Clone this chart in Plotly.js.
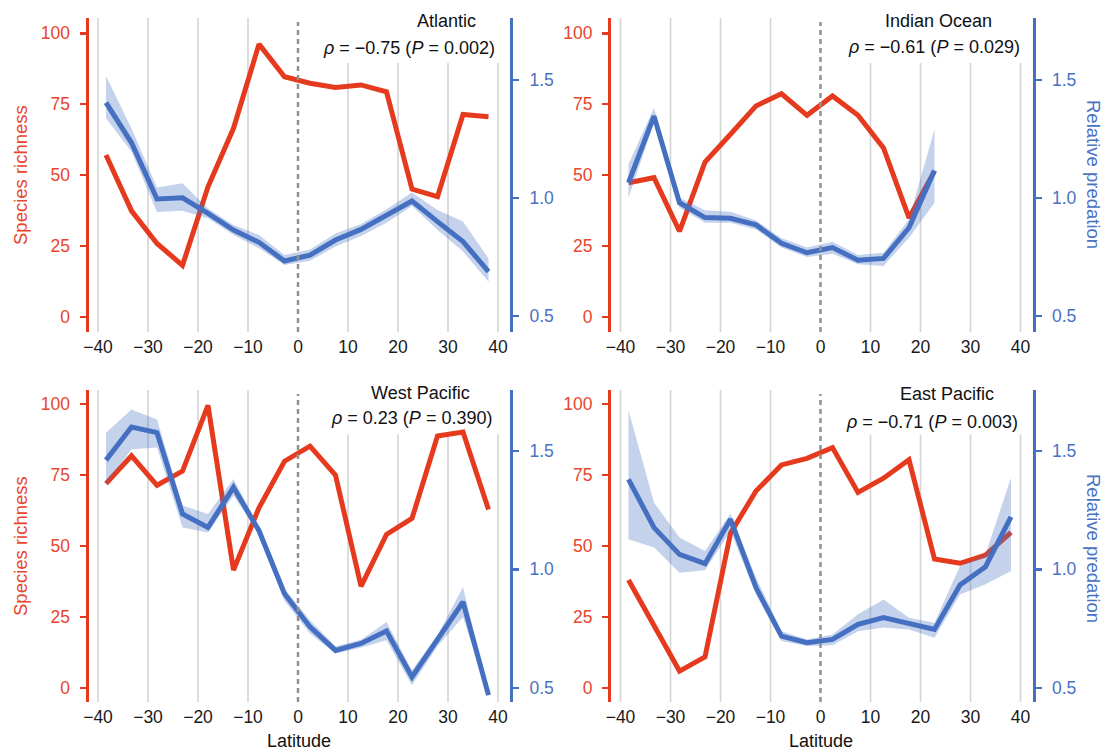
<!DOCTYPE html>
<html>
<head>
<meta charset="utf-8">
<script src="https://cdn.plot.ly/plotly-3.0.1.min.js"></script>
<style>html,body{margin:0;padding:0;background:#fff;}#chart{width:1104px;height:752px;}</style>
</head>
<body>
<div id="chart"></div>
<script>
// ---- data ----
const lat = [-38.4, -33.3, -28.2, -23.1, -18.0, -12.9, -7.8, -2.7, 2.4, 7.5, 12.6, 17.7, 22.8, 27.9, 33.0, 38.1];

const richAtl   = [57.1, 37.4, 25.9, 18.2, 45.9, 66.5, 96.2, 84.7, 82.4, 80.9, 81.8, 79.4, 45.1, 42.4, 71.4, 70.6];
const predAtl   = [1.404, 1.234, 0.996, 1.001, 0.935, 0.864, 0.812, 0.733, 0.758, 0.822, 0.867, 0.924, 0.987, 0.900, 0.815, 0.688];
const predAtlHi = [1.517, 1.295, 1.045, 1.062, 0.956, 0.886, 0.843, 0.758, 0.782, 0.850, 0.890, 0.952, 1.023, 0.949, 0.900, 0.744];
const predAtlLo = [1.338, 1.196, 0.941, 0.946, 0.914, 0.843, 0.787, 0.716, 0.734, 0.794, 0.839, 0.895, 0.966, 0.864, 0.773, 0.645];

const richInd   = [47.3, 49.1, 30.2, 54.6, 64.4, 74.4, 78.7, 71.1, 77.9, 71.1, 59.6, 34.9, 51.4];
const predInd   = [1.065, 1.347, 0.980, 0.917, 0.914, 0.886, 0.808, 0.768, 0.790, 0.736, 0.744, 0.874, 1.117];
const predIndHi = [1.143, 1.383, 1.001, 0.948, 0.942, 0.905, 0.829, 0.790, 0.815, 0.758, 0.768, 0.910, 1.291];
const predIndLo = [1.001, 1.319, 0.959, 0.895, 0.895, 0.867, 0.790, 0.750, 0.764, 0.719, 0.712, 0.832, 0.980];

const richWP   = [72.0, 81.8, 71.4, 76.4, 99.6, 41.5, 63.5, 79.9, 85.2, 75.0, 35.8, 54.1, 59.7, 88.8, 90.2, 62.9];
const predWP   = [1.461, 1.601, 1.577, 1.234, 1.177, 1.346, 1.163, 0.897, 0.757, 0.658, 0.687, 0.740, 0.546, 0.700, 0.862, 0.469];
const predWPHi = [1.577, 1.675, 1.633, 1.269, 1.234, 1.381, 1.177, 0.918, 0.785, 0.675, 0.703, 0.778, 0.574, 0.722, 0.925, 0.476];
const predWPLo = [1.360, 1.507, 1.514, 1.177, 1.156, 1.311, 1.149, 0.866, 0.729, 0.644, 0.670, 0.701, 0.511, 0.675, 0.799, 0.462];

const richEP   = [38.0, 21.9, 5.9, 10.9, 54.5, 69.4, 78.6, 80.9, 84.7, 68.9, 73.9, 80.4, 45.4, 43.9, 46.8, 54.8];
const predEP   = [1.380, 1.176, 1.063, 1.024, 1.211, 0.923, 0.718, 0.690, 0.704, 0.768, 0.796, 0.770, 0.746, 0.934, 1.011, 1.221];
const predEPHi = [1.672, 1.282, 1.134, 1.077, 1.235, 0.965, 0.739, 0.704, 0.725, 0.810, 0.873, 0.796, 0.775, 1.014, 1.063, 1.387];
const predEPLo = [1.127, 1.092, 0.986, 0.996, 1.162, 0.894, 0.697, 0.676, 0.680, 0.739, 0.754, 0.746, 0.711, 0.894, 0.937, 0.993];

const panelNames = ['Atlantic', 'Indian Ocean', 'West Pacific', 'East Pacific'];
const rhoText = ['<i>ρ</i> = −0.75 (<i>P</i> = 0.002)', '<i>ρ</i> = −0.61 (<i>P</i> = 0.029)',
                 '<i>ρ</i> = 0.23 (<i>P</i> = 0.390)', '<i>ρ</i> = −0.71 (<i>P</i> = 0.003)'];

const latTicks = [-40, -30, -20, -10, 0, 10, 20, 30, 40];
const latTickText = ['−40', '−30', '−20', '−10', '0', '10', '20', '30', '40'];
const richTicks = [0, 25, 50, 75, 100];
const predTicks = [0.5, 1.0, 1.5];
const predTickText = ['0.5', '1.0', '1.5'];

// ---- styles ----
const RED = '#E63A1F', RED_T = '#E8452C';
const BLUE = '#4570C1', BLUE_T = '#4A72C2';
const BAND = 'rgba(70,114,196,0.32)';
const GRID = '#d4d4d4';
const FONT = 'Liberation Sans, Arial, Helvetica, sans-serif';
const W = 1104, H = 752;

const panels = [
  {rich: richAtl, pred: predAtl, hi: predAtlHi, lo: predAtlLo},
  {rich: richInd, pred: predInd, hi: predIndHi, lo: predIndLo},
  {rich: richWP,  pred: predWP,  hi: predWPHi,  lo: predWPLo},
  {rich: richEP,  pred: predEP,  hi: predEPHi,  lo: predEPLo}
];

// pixel geometry of panels
const geo = [
  {x0: 88.5, x1: 510,    y0: 18,  y1: 332, red: [-5.3, 105.4], blue: [0.432, 1.763]},
  {x0: 611,  x1: 1032.5, y0: 18,  y1: 332, red: [-5.3, 105.4], blue: [0.432, 1.763]},
  {x0: 88.5, x1: 510,    y0: 390, y1: 702, red: [-5.0, 105.0], blue: [0.440, 1.757]},
  {x0: 611,  x1: 1032.5, y0: 390, y1: 702, red: [-5.0, 105.0], blue: [0.440, 1.757]}
];
const xRange = [-41.9, 42.4];

const traces = [];
const layout = {
  width: W, height: H, autosize: false,
  margin: {l: 0, r: 0, t: 0, b: 0},
  paper_bgcolor: '#fff', plot_bgcolor: 'rgba(0,0,0,0)',
  showlegend: false,
  font: {family: FONT, size: 17.5, color: '#1a1a1a'},
  shapes: [], annotations: []
};

panels.forEach((p, i) => {
  const g = geo[i];
  const xa = i === 0 ? 'x' : 'x' + (i + 1);
  const yr = 'y' + (i === 0 ? '' : (2 * i + 1));
  const yb = 'y' + (2 * i + 2);
  const xKey = i === 0 ? 'xaxis' : 'xaxis' + (i + 1);
  const yrKey = 'yaxis' + (i === 0 ? '' : (2 * i + 1));
  const ybKey = 'yaxis' + (2 * i + 2);
  const xs = lat.slice(0, p.rich.length);

  traces.push({x: xs, y: p.rich, xaxis: xa, yaxis: yr, mode: 'lines', type: 'scatter',
    line: {color: RED, width: 5, shape: 'linear'}, hoverinfo: 'skip'});
  traces.push({x: xs, y: p.lo, xaxis: xa, yaxis: yb, mode: 'lines', type: 'scatter',
    line: {width: 0, color: BAND}, hoverinfo: 'skip'});
  traces.push({x: xs, y: p.hi, xaxis: xa, yaxis: yb, mode: 'lines', type: 'scatter',
    line: {width: 0, color: BAND}, fill: 'tonexty', fillcolor: BAND, hoverinfo: 'skip'});
  traces.push({x: xs, y: p.pred, xaxis: xa, yaxis: yb, mode: 'lines', type: 'scatter',
    line: {color: BLUE, width: 5}, hoverinfo: 'skip'});

  const yDom = [1 - g.y1 / H, 1 - g.y0 / H];
  layout[xKey] = {
    domain: [g.x0 / W, g.x1 / W], anchor: yr, range: xRange,
    tickmode: 'array', tickvals: latTicks, ticktext: latTickText,
    ticks: '', showline: false, zeroline: false, showgrid: false,
    tickfont: {family: FONT, size: 17.5, color: '#1a1a1a'},
    ticklabelstandoff: 2, fixedrange: true
  };
  layout[yrKey] = {
    domain: yDom, anchor: xa, range: g.red,
    tickmode: 'array', tickvals: richTicks,
    ticks: 'outside', ticklen: 6, tickwidth: 2.5, tickcolor: RED,
    showline: true, linecolor: RED, linewidth: 3,
    showgrid: false, zeroline: false,
    tickfont: {family: FONT, size: 17.5, color: RED_T},
    ticklabelstandoff: 6, fixedrange: true
  };
  layout[ybKey] = {
    overlaying: yr, anchor: xa, side: 'right', range: g.blue,
    tickmode: 'array', tickvals: predTicks, ticktext: predTickText,
    ticks: 'outside', ticklen: 6, tickwidth: 2.5, tickcolor: BLUE,
    showline: true, linecolor: BLUE, linewidth: 3,
    showgrid: false, zeroline: false,
    tickfont: {family: FONT, size: 17.5, color: BLUE_T},
    ticklabelstandoff: 7, fixedrange: true
  };

  const yd = yr + ' domain';
  // vertical grid lines at the latitude ticks (those under the labels stop below them)
  latTicks.forEach(t => {
    if (t === 0) return;
    layout.shapes.push({type: 'line', xref: xa, yref: yd, x0: t, x1: t, y0: 0, y1: t > 5 ? 0.857 : 1,
      line: {color: GRID, width: 1.6}, layer: 'below'});
  });
  // dashed equator line
  layout.shapes.push({type: 'line', xref: xa, yref: yd, x0: 0, x1: 0, y0: 0, y1: 0.987,
    line: {color: '#919191', width: 2.5, dash: '5px,4px'}, layer: 'above'});
});

// panel titles and correlation text
const titlePos = [[446.8, 21], [938.6, 21], [420.4, 392.7], [947, 394.3]];
const rhoPos = [[497, 48], [1022, 46.5], [494, 417.7], [1020, 422]];
panelNames.forEach((t, i) => {
  layout.annotations.push({text: t, xref: 'paper', yref: 'paper', x: titlePos[i][0] / W, y: 1 - titlePos[i][1] / H,
    xanchor: 'center', yanchor: 'middle', showarrow: false, font: {family: FONT, size: 18, color: '#111'}});
  layout.annotations.push({text: rhoText[i], xref: 'paper', yref: 'paper', x: rhoPos[i][0] / W, y: 1 - rhoPos[i][1] / H,
    xanchor: 'right', yanchor: 'middle', showarrow: false, font: {family: FONT, size: 18, color: '#111'}});
});

// axis titles
[[20, 175], [20, 546]].forEach(pos => layout.annotations.push({
  text: 'Species richness', xref: 'paper', yref: 'paper', x: pos[0] / W, y: 1 - pos[1] / H,
  xanchor: 'center', yanchor: 'middle', textangle: -90, showarrow: false,
  font: {family: FONT, size: 18.5, color: RED_T}}));
[[1094, 174], [1094, 548]].forEach(pos => layout.annotations.push({
  text: 'Relative predation', xref: 'paper', yref: 'paper', x: pos[0] / W, y: 1 - pos[1] / H,
  xanchor: 'center', yanchor: 'middle', textangle: 90, showarrow: false,
  font: {family: FONT, size: 18.5, color: BLUE_T}}));
[299, 820.5].forEach(px => layout.annotations.push({
  text: 'Latitude', xref: 'paper', yref: 'paper', x: px / W, y: 0,
  xanchor: 'center', yanchor: 'bottom', borderpad: 0, showarrow: false,
  font: {family: FONT, size: 18, color: '#111'}}));

Plotly.newPlot('chart', traces, layout, {staticPlot: true, displayModeBar: false});
</script>
</body>
</html>
